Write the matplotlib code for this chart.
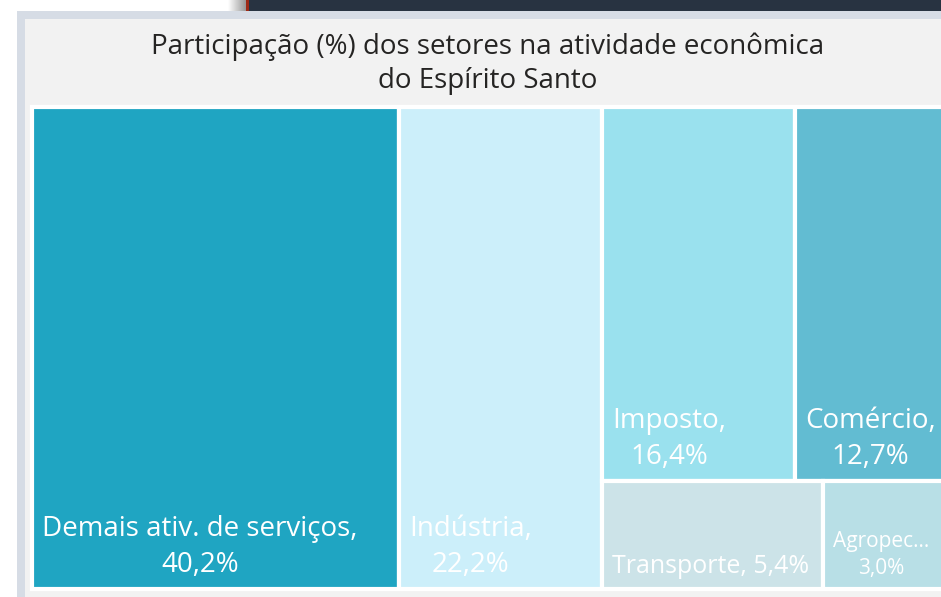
import matplotlib
matplotlib.use("Agg")
import matplotlib.pyplot as plt
from matplotlib.patches import Rectangle
import numpy as np

# ---- data ----
sectors = ["Demais ativ. de serviços", "Indústria", "Imposto", "Comércio", "Transporte", "Agropec..."]
values = [40.2, 22.2, 16.4, 12.7, 5.4, 3.0]
colors = ["#1FA5C2", "#CCEFFA", "#9AE1EE", "#62BCD2", "#CCE3E8", "#B8DFE6"]
separators = [",\n", ",\n", ",\n", ",\n", ", ", "\n"]
label_sizes = [20, 20, 20, 20, 18, 15]
title = "Participação (%) dos setores na atividade econômica\ndo Espírito Santo"

# layout structure: columns of rows of item indices
structure = [[[0]], [[1]], [[2, 3], [4, 5]]]

plt.rcParams['font.family'] = ['Open Sans', 'DejaVu Sans']

W, H = 941, 597
fig = plt.figure(figsize=(W / 100, H / 100), dpi=100)
fig.patch.set_facecolor("white")

# background decoration axes (pixel coordinates)
bg = fig.add_axes([0, 0, 1, 1])
bg.set_xlim(0, W)
bg.set_ylim(H, 0)
bg.axis("off")
bg.add_patch(Rectangle((249, 0), W - 249, 11, color="#283341", lw=0))
bg.add_patch(Rectangle((246, 0), 3, 11, color="#9E2A17", lw=0))
grad = np.linspace(1.0, 0.6, 50)[None, :]
bg.imshow(np.dstack([grad, grad, grad]), extent=(228, 246, 11, 0), aspect="auto")
bg.add_patch(Rectangle((17, 11), W - 17 + 20, H, color="#D6DCE5", lw=0))
bg.add_patch(Rectangle((25, 19), W - 25 + 20, H, color="#F2F2F2", lw=0))
bg.add_patch(Rectangle((32, 106), W, 483, color="white", lw=0))
bg.set_xlim(0, W)
bg.set_ylim(H, 0)

fig.text(488 / W, 1 - 64 / H, title, ha="center", va="center", fontsize=20,
         color="#252423", linespacing=1.3)

# treemap axes (extends slightly beyond right edge of figure, as in the reference)
x0_px, x1_px, y0_px, y1_px = 32, 945, 107, 589
ax = fig.add_axes([x0_px / W, 1 - y1_px / H, (x1_px - x0_px) / W, (y1_px - y0_px) / H])
ax.set_xlim(0, 1)
ax.set_ylim(1, 0)
ax.axis("off")

total = sum(values)
x = 0.0
for col in structure:
    col_sum = sum(values[i] for row in col for i in row)
    cw = col_sum / total
    y = 0.0
    for row in col:
        row_sum = sum(values[i] for i in row)
        rh = row_sum / col_sum
        xx = x
        for i in row:
            w = cw * values[i] / row_sum
            ax.add_patch(Rectangle((xx, y), w, rh, facecolor=colors[i],
                                   edgecolor="white", linewidth=3, clip_on=False))
            val = f"{values[i]:.1f}".replace(".", ",")
            label = f"{sectors[i]}{separators[i]}{val}%"
            ax.annotate(label, xy=(xx, y + rh), xytext=(10, 10), textcoords="offset pixels",
                        ha="left", va="bottom", multialignment="center",
                        fontsize=label_sizes[i], color="white", linespacing=1.4,
                        annotation_clip=False)
            xx += w
        y += rh
    x += cw

fig.savefig("out.png", dpi=100)
